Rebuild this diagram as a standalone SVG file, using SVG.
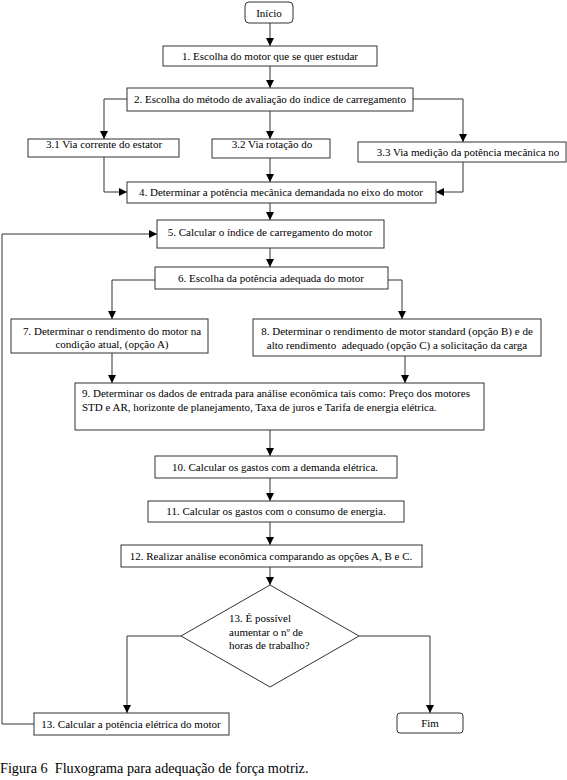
<svg xmlns="http://www.w3.org/2000/svg" width="567" height="780" viewBox="0 0 567 780">
<defs>
<marker id="ah" viewBox="0 0 10 10" refX="10" refY="5" markerWidth="8" markerHeight="9" markerUnits="userSpaceOnUse" orient="auto">
<path d="M0,0 L10,5 L0,10 Z" fill="#000"/>
</marker>
<style>
.b{fill:#fff;stroke:#333;stroke-width:1}
.t{font-family:"Liberation Serif","Times New Roman",serif;font-size:11px;fill:#000;text-anchor:middle}
.l{font-family:"Liberation Serif","Times New Roman",serif;font-size:11px;fill:#000}
.c{fill:none;stroke:#333;stroke-width:1}
.a{marker-end:url(#ah)}
</style>
</defs>
<rect width="567" height="780" fill="#fff"/>
<g id="connectors">
<path class="c a" d="M270,23 V46"/>
<path class="c a" d="M270,66 V88"/>
<path class="c a" d="M127,99 H104 V139"/>
<path class="c a" d="M270,111 V139"/>
<path class="c a" d="M413,99 H463 V142"/>
<path class="c a" d="M104,157 V192 H127"/>
<path class="c a" d="M270,158 V182"/>
<path class="c a" d="M463,162 V192 H436"/>
<path class="c a" d="M270,203 V220"/>
<path class="c a" d="M34,724 H2 V234 H157"/>
<path class="c a" d="M270,248 V267"/>
<path class="c a" d="M155,280 H112 V319"/>
<path class="c a" d="M388,280 H402 V319"/>
<path class="c a" d="M112,353 V383"/>
<path class="c a" d="M405,356 V383"/>
<path class="c a" d="M270,430 V456"/>
<path class="c a" d="M270,478 V501"/>
<path class="c a" d="M270,522 V545"/>
<path class="c a" d="M270,567 V585"/>
<path class="c a" d="M181,636 H127 V713"/>
<path class="c a" d="M359,636 H430 V713"/>
</g>
<g id="inicio"><rect class="b" x="245" y="2" width="48" height="21" rx="4"/><text class="t" x="269" y="17">Início</text></g>
<g id="n1"><rect class="b" x="163" y="46" width="214" height="20"/><text class="t" x="270" y="60">1. Escolha do motor que se quer estudar</text></g>
<g id="n2"><rect class="b" x="127" y="88" width="286" height="23"/><text class="t" x="270" y="103">2. Escolha do método de avaliação do índice de carregamento</text></g>
<g id="n31"><rect class="b" x="28" y="139" width="151" height="18"/><text class="t" x="104" y="148">3.1 Via corrente do estator</text></g>
<g id="n32"><rect class="b" x="212" y="139" width="118" height="19"/><text class="t" x="272" y="148">3.2 Via rotação do</text></g>
<g id="n33"><rect class="b" x="358" y="142" width="208" height="20"/><text class="t" x="468" y="156">3.3 Via medição da potência mecânica no</text></g>
<g id="n4"><rect class="b" x="127" y="182" width="309" height="21"/><text class="t" x="281" y="196">4. Determinar a potência mecânica demandada no eixo do motor</text></g>
<g id="n5"><rect class="b" x="157" y="220" width="227" height="28"/><text class="t" x="270" y="236">5. Calcular o índice de carregamento do motor</text></g>
<g id="n6"><rect class="b" x="155" y="267" width="233" height="22"/><text class="t" x="271" y="282">6. Escolha da potência adequada do motor</text></g>
<g id="n7"><rect class="b" x="11" y="319" width="197" height="34"/><text class="t" x="112" y="335">7. Determinar o rendimento do motor na</text><text class="t" x="112" y="348">condição atual, (opção A)</text></g>
<g id="n8"><rect class="b" x="253" y="319" width="288" height="37"/><text class="t" x="397" y="335">8. Determinar o rendimento de motor standard (opção B) e de</text><text class="t" x="397" y="349" xml:space="preserve">alto rendimento  adequado (opção C) a solicitação da carga</text></g>
<g id="n9"><rect class="b" x="75" y="383" width="409" height="47"/><text class="l" x="82" y="397">9. Determinar os dados de entrada para análise econômica tais como: Preço dos motores</text><text class="l" x="82" y="411">STD e AR, horizonte de planejamento, Taxa de juros e Tarifa de energia elétrica.</text></g>
<g id="n10"><rect class="b" x="155" y="456" width="242" height="22"/><text class="t" x="275" y="471">10. Calcular os gastos com a demanda elétrica.</text></g>
<g id="n11"><rect class="b" x="148" y="501" width="256" height="21"/><text class="t" x="276" y="515">11. Calcular os gastos com o consumo de energia.</text></g>
<g id="n12"><rect class="b" x="121" y="545" width="301" height="22"/><text class="t" x="271" y="560">12. Realizar análise econômica comparando as opções A, B e C.</text></g>
<g id="n13d"><polygon class="b" points="270,585 359,636 270,687 181,636"/><text class="l" x="229" y="622">13. É possível</text><text class="l" x="229" y="636">aumentar o nº de</text><text class="l" x="229" y="649">horas de trabalho?</text></g>
<g id="n13"><rect class="b" x="34" y="713" width="195" height="22"/><text class="t" x="131" y="728">13. Calcular a potência elétrica do motor</text></g>
<g id="fim"><rect class="b" x="397" y="713" width="66" height="20" rx="3"/><text class="t" x="430" y="727">Fim</text></g>
<text x="0" y="773" font-family="Liberation Serif, Times New Roman, serif" font-size="14.2" fill="#000" xml:space="preserve">Figura 6  Fluxograma para adequação de força motriz.</text>
</svg>
